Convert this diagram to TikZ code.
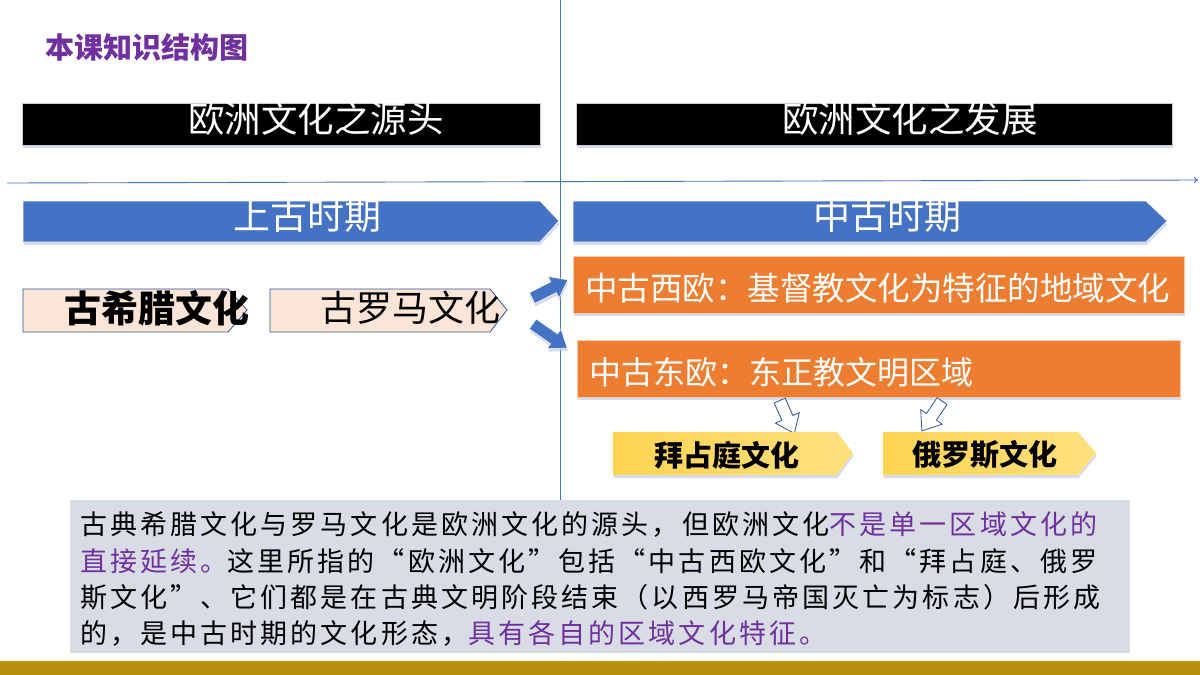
\documentclass[tikz,border=0pt]{standalone}
\usepackage{fontspec}
\usetikzlibrary{shadows,arrows.meta}
\newfontfamily\cjk{Noto Sans CJK SC}
\newfontfamily\cjkbody[LetterSpace=11.5,RawFeature={+fwid}]{Noto Sans CJK SC}
\definecolor{tblue}{HTML}{4472C4}
\definecolor{dblue}{HTML}{2F5597}
\definecolor{orng}{HTML}{ED7D31}
\definecolor{beige}{HTML}{FBE5D6}
\definecolor{purp}{HTML}{7030A0}
\definecolor{gold}{HTML}{B8900D}
\definecolor{tbox}{HTML}{D7DCE5}
\definecolor{ylwa}{HTML}{FFD452}
\definecolor{ylwb}{HTML}{FFE07E}
\definecolor{shcol}{HTML}{B9C4E6}
\tikzset{
  shad/.style={drop shadow={shadow xshift=0.5pt,shadow yshift=-3pt,fill=shcol,opacity=0.6}},
  lbl/.style={inner sep=0pt,outer sep=0pt},
  fs/.style={font=\cjk\fontsize{#1}{#1}\selectfont},
  fsb/.style={font=\cjk\bfseries\fontsize{#1}{#1}\selectfont},
  blockarr/.style={fill=tblue,draw=white,line width=0.5pt,shad},
  openarr/.style={fill=white,draw=dblue,line width=0.8pt}
}
\begin{document}
\begin{tikzpicture}[x=1pt,y=-1pt]
\useasboundingbox (0,0) rectangle (1200,675);
\fill[white] (0,0) rectangle (1200,675);

% axis lines
\coordinate (hl) at (7,183);
\coordinate (hr) at (1198,180);
\coordinate (vt) at (560,0);
\coordinate (vb) at (560,500);
\draw[tblue,line width=0.9pt,-{To[length=4pt,width=6pt]}] (hl) -- (hr);
\draw[tblue,line width=0.9pt] (vt) -- (vb);

% title
\node[lbl,fsb=29,text=purp] (title) at (147,47) {本课知识结构图};

% black header boxes
\path[fill=black,draw=gray!40,line width=0.6pt,shad] (22,103) rectangle (540,145);
\path[fill=black,draw=gray!40,line width=0.6pt,shad] (576,103) rectangle (1172,145);
\node[lbl,fs=36.5,text=white] (srcT) at (316,119) {欧洲文化之源头};
\node[lbl,fs=36.5,text=white] (devT) at (910,119) {欧洲文化之发展};

% blue period arrows
\path[fill=tblue,draw=white,line width=0.6pt,shad] (23,201) -- (540,201) -- (559,221) -- (540,242) -- (23,242) -- cycle;
\path[fill=tblue,draw=white,line width=0.6pt,shad] (573,201) -- (1146,201) -- (1167,221) -- (1146,242) -- (573,242) -- cycle;
\node[lbl,fs=37,text=white] (ancT) at (307,216) {上古时期};
\node[lbl,fs=37,text=white] (medT) at (887,216) {中古时期};

% beige culture tags
\path[fill=beige,draw=dblue,line width=0.8pt] (23,289) -- (228,289) -- (247,310) -- (228,332) -- (23,332) -- cycle;
\path[fill=beige,draw=dblue,line width=0.8pt] (270,289) -- (490,289) -- (507,310) -- (490,332) -- (270,332) -- cycle;
\node[lbl,fsb=37] (greek) at (157,308) {古希腊文化};
\node[lbl,fs=36] (roman) at (410,308) {古罗马文化};

% blue block arrows
\path[blockarr,shift={(550,289)},rotate=27] (-20,-6) -- (4,-6) -- (4,-12) -- (20,0) -- (4,12) -- (4,6) -- (-20,6) -- cycle;
\path[blockarr,shift={(550,336)},rotate=-35] (-21,-6) -- (5,-6) -- (5,-12) -- (21,0) -- (5,12) -- (5,6) -- (-21,6) -- cycle;

% orange boxes
\path[fill=orng,draw=orng!40,line width=0.6pt,shad] (573,256) rectangle (1184,313);
\path[fill=orng,draw=orng!40,line width=0.6pt,shad] (577,340) rectangle (1180,397);
\node[lbl,fs=32.5,text=white,anchor=west] (west) at (585,288) {中古西欧：基督教文化为特征的地域文化};
\node[lbl,fs=32,text=white,anchor=west] (east) at (589,372) {中古东欧：东正教文明区域};

% open arrows
\path[openarr,shift={(787,417)},rotate=-66] (-18,-6) -- (1,-6) -- (1,-13) -- (18,0) -- (1,13) -- (1,6) -- (-18,6) -- cycle;
\path[openarr,shift={(932,416)},rotate=-124] (-18,-6) -- (1,-6) -- (1,-13) -- (18,0) -- (1,13) -- (1,6) -- (-18,6) -- cycle;

% yellow tags
\path[left color=ylwa,right color=ylwb,shad] (613,432) -- (837,432) -- (853,453) -- (837,475) -- (613,475) -- cycle;
\path[left color=ylwa,right color=ylwb,shad] (883,432) -- (1078,432) -- (1096,453) -- (1078,475) -- (883,475) -- cycle;
\node[lbl,fsb=29] (byz) at (727,455) {拜占庭文化};
\node[lbl,fsb=29] (rus) at (985,455) {俄罗斯文化};

% text box
\fill[tbox] (70,500) rectangle (1130,653);
\node[lbl,font=\cjkbody\fontsize{27}{27}\selectfont,anchor=west] (l1) at (80,525) {古典希腊文化与罗马文化是欧洲文化的源头，但欧洲文化\textcolor{purp}{不是单一区域文化的}};
\node[lbl,font=\cjkbody\fontsize{27}{27}\selectfont,anchor=west] (l2) at (80,561) {\textcolor{purp}{直接延续。}这里所指的“欧洲文化”包括“中古西欧文化”和“拜占庭、俄罗};
\node[lbl,font=\cjkbody\fontsize{27}{27}\selectfont,anchor=west] (l3) at (80,597) {斯文化”、它们都是在古典文明阶段结束（以西罗马帝国灭亡为标志）后形成};
\node[lbl,font=\cjkbody\fontsize{27}{27}\selectfont,anchor=west] (l4) at (80,633) {的，是中古时期的文化形态，\textcolor{purp}{具有各自的区域文化特征。}};

% gold bar
\fill[gold] (0,661) rectangle (1200,675);
\end{tikzpicture}
\end{document}
